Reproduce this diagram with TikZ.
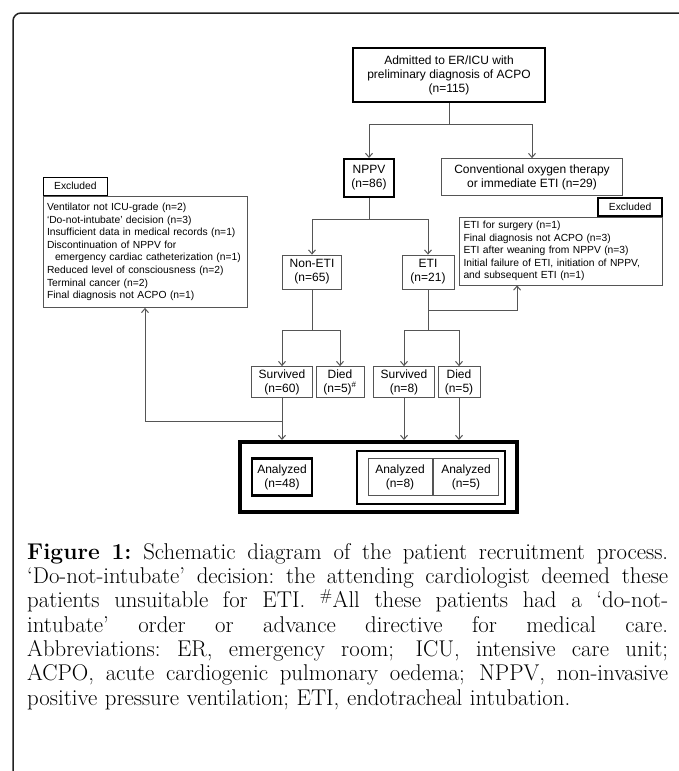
\documentclass[tikz,border=0pt]{standalone}
\usepackage{fontspec}
\usepackage{tikz}
\usetikzlibrary{arrows.meta, positioning}
\newfontfamily\diagfont{Liberation Sans}
\definecolor{LineGray}{HTML}{555555}
\definecolor{FrameGray}{HTML}{222222}
\newcommand{\capline}[1]{\leavevmode\hbox to 641pt{\spaceskip=0.28em plus 1fil\relax\xspaceskip=\spaceskip #1}}

\begin{document}
\begin{tikzpicture}[x=1pt, y=-1pt,
    box/.style={draw=LineGray, line width=0.8pt, fill=white, align=center, inner sep=2pt, font=\diagfont\fontsize{12}{14}\selectfont},
    heavybox/.style={box, draw=black, line width=2pt},
    listbox/.style={box, align=left, inner sep=4pt, font=\diagfont\fontsize{10.3}{12.6}\selectfont},
    tagbox/.style={heavybox, line width=1.6pt, inner sep=0pt, minimum width=64pt, minimum height=18pt, font=\diagfont\fontsize{10.3}{12}\selectfont},
    link/.style={draw=LineGray, line width=1pt},
    arrow/.style={link, -{Straight Barb[length=4pt, width=7pt]}}]
    \useasboundingbox (0,0) rectangle (679,771);
    \draw[FrameGray, line width=1.5pt, rounded corners=8pt] (13,771) -- (13,13) -- (679,13);

    % flow boxes
    \node (adm) [heavybox, line width=2.4pt, minimum width=192pt, minimum height=54pt] at (449,75) {Admitted to ER/ICU with\\preliminary diagnosis of ACPO\\(n=115)};
    \node (nppv) [heavybox, minimum width=50pt, minimum height=38pt] at (369,178) {NPPV\\(n=86)};
    \node (conv) [box, minimum width=181pt, minimum height=37pt] at (532,177) {Conventional oxygen therapy\\or immediate ETI (n=29)};
    \node (noneti) [box, minimum width=59pt, minimum height=34pt] at (312,272) {Non-ETI\\(n=65)};
    \node (eti) [box, minimum width=52pt, minimum height=34pt] at (428,272) {ETI\\(n=21)};
    \node (surv1) [box, minimum width=61pt, minimum height=31pt] at (282,382) {Survived\\(n=60)};
    \node (died1) [box, minimum width=48pt, minimum height=31pt] at (340,382) {Died\\(n=5)\textsuperscript{\#}};
    \node (surv2) [box, minimum width=61pt, minimum height=31pt] at (404,382) {Survived\\(n=8)};
    \node (died2) [box, minimum width=42pt, minimum height=31pt] at (459,382) {Died\\(n=5)};

    % excluded lists
    \node (exclL) [listbox, text width=196pt, minimum height=111pt] at (145,252) {Ventilator not ICU-grade (n=2)\\‘Do-not-intubate’ decision (n=3)\\Insufficient data in medical records (n=1)\\Discontinuation of NPPV for\\\hspace*{8pt}emergency cardiac catheterization (n=1)\\Reduced level of consciousness (n=2)\\Terminal cancer (n=2)\\Final diagnosis not ACPO (n=1)};
    \node (tagL) [tagbox, anchor=south west] at (exclL.north west) {Excluded};
    \node (exclR) [listbox, text width=195pt, minimum height=66pt] at (561,251) {ETI for surgery (n=1)\\Final diagnosis not ACPO (n=3)\\ETI after weaning from NPPV (n=3)\\Initial failure of ETI, initiation of NPPV,\\and subsequent ETI (n=1)};
    \node (tagR) [tagbox, anchor=south east] at (exclR.north east) {Excluded};

    % analysed group
    \node (big) [heavybox, line width=4pt, minimum width=277pt, minimum height=70pt] at (378,477) {};
    \node (etigrp) [heavybox, minimum width=148pt, minimum height=53pt] at (431,477) {};
    \node (an48) [heavybox, line width=2.4pt, minimum width=60pt, minimum height=37pt] at (282,477) {Analyzed\\(n=48)};
    \node (an8) [box, minimum width=64pt, minimum height=37pt] at (400,477) {Analyzed\\(n=8)};
    \node (an5) [box, minimum width=65pt, minimum height=37pt] at (466,477) {Analyzed\\(n=5)};

    % connectors
    \draw[link] (adm.south) -- ++(0,21) coordinate (admJ);
    \draw[arrow] (admJ) -| (nppv.north);
    \draw[arrow] (admJ) -| (conv.north);
    \draw[link] (nppv.south) -- ++(0,21) coordinate (nppvJ);
    \draw[arrow] (nppvJ) -| (noneti.north);
    \draw[arrow] (nppvJ) -| (eti.north);
    \draw[link] (noneti.south) -- ++(0,41) coordinate (nonetiJ);
    \draw[arrow] (nonetiJ) -| (surv1.north);
    \draw[arrow] (nonetiJ) -| (died1.north);
    \draw[link] (eti.south) -- ++(0,41) coordinate (etiJ);
    \draw[arrow] (etiJ) -| (surv2.north);
    \draw[arrow] (etiJ) -| (died2.north);
    \draw[arrow] ([yshift=-21pt]eti.south) -| ([xshift=58pt]exclR.south west);
    \draw[arrow] (surv1.south) -- (surv1.south |- big.north);
    \draw[arrow] ([yshift=-24pt]surv1.south) -| (exclL.south);
    \draw[arrow] (surv2.south) -- (surv2.south |- big.north);
    \draw[arrow] (died2.south) -- (died2.south |- big.north);

    % caption
    \node (caption) [anchor=north west, inner sep=0pt, text width=641pt, align=left, font=\fontsize{22.8}{24.3}\selectfont] at (27,543) {%
      \capline{\textbf{Figure 1:} Schematic diagram of the patient recruitment process.}\\
      \capline{‘Do-not-intubate’ decision: the attending cardiologist deemed these}\\
      \capline{patients unsuitable for ETI. \textsuperscript{\#}All these patients had a ‘do-not-}\\
      \capline{intubate’ order or advance directive for medical care.}\\
      \capline{Abbreviations: ER, emergency room; ICU, intensive care unit;}\\
      \capline{ACPO, acute cardiogenic pulmonary oedema; NPPV, non-invasive}\\
      positive pressure ventilation; ETI, endotracheal intubation.};
\end{tikzpicture}
\end{document}
